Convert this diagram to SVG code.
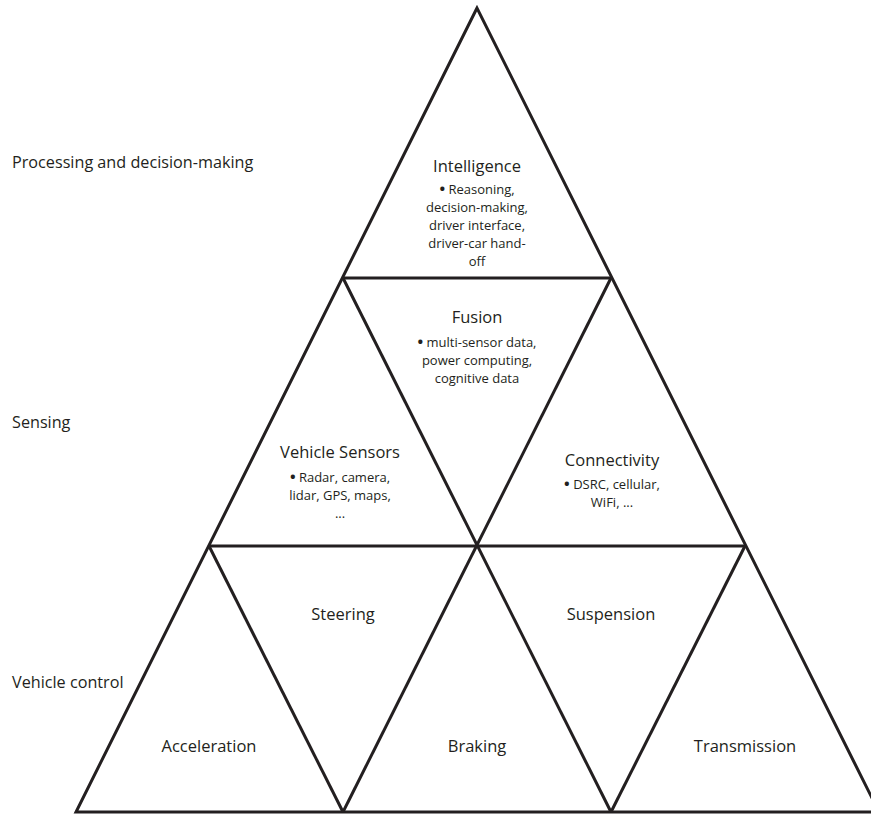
<svg xmlns="http://www.w3.org/2000/svg" width="871" height="814" viewBox="0 0 871 814">
  <style>
    .edge { stroke: #231f20; stroke-width: 3; fill: none; stroke-linejoin: miter; stroke-linecap: butt; }
    text { font-family: "Open Sans", "Liberation Sans", sans-serif; fill: #231f20; }
    .layer { font-size: 16.2px; }
    .title { font-size: 16.5px; text-anchor: middle; }
    .body { font-size: 13px; text-anchor: middle; }
    .dot { font-size: 15px; font-weight: bold; }
  </style>

  <!-- layer captions on the left -->
  <g id="layer-labels">
    <text class="layer" x="12" y="168">Processing and decision-making</text>
    <text class="layer" x="12" y="428">Sensing</text>
    <text class="layer" x="12" y="688">Vehicle control</text>
  </g>

  <!-- triangle grid -->
  <g id="connectors">
    <polygon class="edge" points="477,8 76,812 879,812"/>
    <line class="edge" x1="343" y1="278" x2="611" y2="278"/>
    <line class="edge" x1="209" y1="546" x2="745" y2="546"/>
    <line class="edge" x1="343" y1="278" x2="611" y2="812"/>
    <line class="edge" x1="611" y1="278" x2="343" y2="812"/>
    <line class="edge" x1="209" y1="546" x2="343" y2="812"/>
    <line class="edge" x1="745" y1="546" x2="611" y2="812"/>
  </g>

  <g id="intelligence">
    <text class="title" x="477" y="172">Intelligence</text>
    <text class="body" x="477" y="194"><tspan class="dot">•</tspan> Reasoning,</text>
    <text class="body" x="477" y="212">decision-making,</text>
    <text class="body" x="477" y="230">driver interface,</text>
    <text class="body" x="477" y="248">driver-car hand-</text>
    <text class="body" x="477" y="266">off</text>
  </g>

  <g id="fusion">
    <text class="title" x="477" y="323">Fusion</text>
    <text class="body" x="477" y="347"><tspan class="dot">•</tspan> multi-sensor data,</text>
    <text class="body" x="477" y="365">power computing,</text>
    <text class="body" x="477" y="383">cognitive data</text>
  </g>

  <g id="vehicle-sensors">
    <text class="title" x="340" y="458">Vehicle Sensors</text>
    <text class="body" x="340" y="482"><tspan class="dot">•</tspan> Radar, camera,</text>
    <text class="body" x="340" y="500">lidar, GPS, maps,</text>
    <text class="body" x="340" y="518">...</text>
  </g>

  <g id="connectivity">
    <text class="title" x="612" y="466">Connectivity</text>
    <text class="body" x="612" y="489"><tspan class="dot">•</tspan> DSRC, cellular,</text>
    <text class="body" x="612" y="507">WiFi, ...</text>
  </g>

  <g id="steering"><text class="title" x="343" y="620">Steering</text></g>
  <g id="suspension"><text class="title" x="611" y="620">Suspension</text></g>
  <g id="acceleration"><text class="title" x="209" y="752">Acceleration</text></g>
  <g id="braking"><text class="title" x="477" y="752">Braking</text></g>
  <g id="transmission"><text class="title" x="745" y="752">Transmission</text></g>
</svg>
